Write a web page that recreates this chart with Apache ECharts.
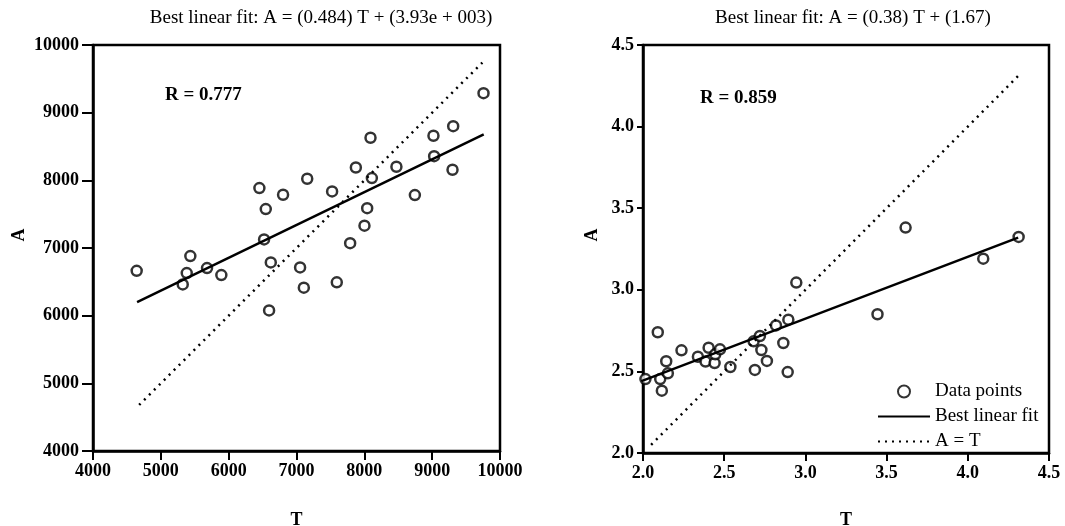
<!DOCTYPE html>
<html>
  <head>
    <title>Best linear fit</title>
    <meta charset='utf-8' />
    <script src="https://cdn.jsdelivr.net/npm/echarts@6/dist/echarts.min.js"></script>
  </head>
  <body style="margin: 0;">
    <div id="content" style="width: 1065px; height: 526px;"></div>

    <script type="text/javascript">
      // left panel: T and A values
      var leftT = [4644, 5323, 5382, 5435, 5681, 5892, 6453, 6522, 6547, 6621,
                   6596, 6802, 7053, 7108, 7158, 7525, 7594, 7791, 7875, 8002,
                   8042, 8091, 8111, 8473, 8745, 9019, 9029, 9310, 9300, 9757];
      var leftA = [6663, 6462, 6629, 6880, 6703, 6600, 7885, 7127, 7575, 6787,
                   6078, 7787, 6713, 6414, 8024, 7836, 6492, 7072, 8190, 7330,
                   7589, 8629, 8033, 8201, 7782, 8659, 8357, 8801, 8157, 9288];
      var leftFit = [[4650, 6200], [9760, 8680]];
      var leftIdent = [[4680, 4680], [9740, 9740]];
      var leftTicks = [4000, 5000, 6000, 7000, 8000, 9000, 10000];

      // right panel
      var rightT = [2.015, 2.091, 2.106, 2.116, 2.143, 2.153, 2.237, 2.338, 2.385, 2.404,
                    2.441, 2.445, 2.474, 2.538, 2.681, 2.689, 2.720, 2.729, 2.763, 2.819,
                    2.864, 2.891, 2.895, 2.944, 3.444, 3.617, 4.095, 4.313];
      var rightA = [2.453, 2.740, 2.453, 2.382, 2.562, 2.488, 2.629, 2.590, 2.560, 2.645,
                    2.551, 2.605, 2.635, 2.527, 2.684, 2.509, 2.717, 2.631, 2.564, 2.782,
                    2.674, 2.496, 2.817, 3.044, 2.850, 3.381, 3.191, 3.324];
      var rightFit = [[1.99, 2.44], [4.31, 3.32]];
      var rightIdent = [[2.05, 2.05], [4.33, 4.33]];
      var rightTicks = [2.0, 2.5, 3.0, 3.5, 4.0, 4.5];

      var titles = ['Best linear fit: A = (0.484) T + (3.93e + 003)',
                    'Best linear fit: A = (0.38) T + (1.67)'];
      var rLabels = ['R = 0.777', 'R = 0.859'];

      var FONT = 'Liberation Serif';

      function zip(xs, ys) {
        var out = [];
        for (var i = 0; i < xs.length; i++) out.push([xs[i], ys[i]]);
        return out;
      }

      function makeAxis(idx, ticks, dim, opts) {
        var step = ticks[1] - ticks[0];
        return {
          type: 'value',
          gridIndex: idx,
          min: ticks[0],
          max: ticks[ticks.length - 1],
          interval: step,
          name: dim === 'x' ? 'T' : '',
          nameLocation: 'middle',
          nameGap: opts.nameGap || 0,
          nameTextStyle: {fontFamily: FONT, fontSize: 18, fontWeight: 'bold', color: '#000'},
          axisLine: {show: true, onZero: false, lineStyle: {color: '#000', width: 2.5}},
          axisTick: {show: true, length: opts.tickLen, lineStyle: {color: '#000', width: 2}},
          axisLabel: {
            margin: opts.margin,
            fontFamily: FONT, fontSize: 18, fontWeight: 'bold', color: '#000',
            formatter: function (v) { return step < 1 ? v.toFixed(1) : String(v); }
          },
          splitLine: {show: false}
        };
      }

      // rotated "A" axis names
      function yName(x, y) {
        return {type: 'text', x: x, y: y, rotation: Math.PI / 2,
                style: {text: 'A', font: 'bold 18px "Liberation Serif"', fill: '#000',
                        align: 'center', verticalAlign: 'middle'}};
      }

      var myChart = echarts.init(document.getElementById('content'));
      var lineCommon = {type: 'line', symbol: 'none', silent: true, itemStyle: {color: '#000'}};
      var titleStyle = {fontFamily: FONT, fontSize: 19, fontWeight: 'normal', color: '#000'};
      var options = {
        animation: false,
        backgroundColor: '#fff',
        title: [
          {text: titles[0], left: 316, top: 4, textAlign: 'center', textStyle: titleStyle},
          {text: titles[1], left: 848, top: 4, textAlign: 'center', textStyle: titleStyle}
        ],
        graphic: [
          {type: 'text', left: 165, top: 86,
           style: {text: rLabels[0], font: 'bold 19px "Liberation Serif"', fill: '#000'}},
          {type: 'text', left: 700, top: 89,
           style: {text: rLabels[1], font: 'bold 19px "Liberation Serif"', fill: '#000'}},
          yName(19, 235),
          yName(592, 235)
        ],
        grid: [
          {left: 93, top: 45, width: 407, height: 406, show: true, outerBoundsMode: 'none',
           containLabel: false, borderColor: '#000', borderWidth: 2.5, backgroundColor: 'transparent'},
          {left: 643, top: 45, width: 406, height: 408, show: true, outerBoundsMode: 'none',
           containLabel: false, borderColor: '#000', borderWidth: 2.5, backgroundColor: 'transparent'}
        ],
        legend: {
          orient: 'vertical',
          left: 872, top: 377,
          itemWidth: 52, itemHeight: 12, itemGap: 6,
          data: [
            {name: 'Data points'},
            {name: 'Best linear fit', itemStyle: {opacity: 0}},
            {name: 'A = T', itemStyle: {opacity: 0}}
          ],
          textStyle: {fontFamily: FONT, fontSize: 19, color: '#000'}
        },
        xAxis: [
          makeAxis(0, leftTicks, 'x', {nameGap: 60, tickLen: 9, margin: 11}),
          makeAxis(1, rightTicks, 'x', {nameGap: 58, tickLen: 8, margin: 11})
        ],
        yAxis: [
          makeAxis(0, leftTicks, 'y', {tickLen: 11, margin: 14}),
          makeAxis(1, rightTicks, 'y', {tickLen: 6, margin: 9})
        ],
        series: [
          {name: 'Data points', type: 'scatter', xAxisIndex: 0, yAxisIndex: 0,
           data: zip(leftT, leftA), symbol: 'circle', symbolSize: 10,
           itemStyle: {color: '#fff', borderColor: '#000', borderWidth: 2.5}},
          Object.assign({name: 'Best linear fit', xAxisIndex: 0, yAxisIndex: 0, data: leftFit,
           lineStyle: {color: '#000', width: 2.5}}, lineCommon),
          Object.assign({name: 'A = T', xAxisIndex: 0, yAxisIndex: 0, data: leftIdent,
           lineStyle: {color: '#000', width: 2.5, type: [2, 5]}}, lineCommon),
          {name: 'Data points', type: 'scatter', xAxisIndex: 1, yAxisIndex: 1,
           data: zip(rightT, rightA), symbol: 'circle', symbolSize: 10,
           itemStyle: {color: '#fff', borderColor: '#000', borderWidth: 2.5}},
          Object.assign({name: 'Best linear fit', xAxisIndex: 1, yAxisIndex: 1, data: rightFit,
           lineStyle: {color: '#000', width: 2.5}}, lineCommon),
          Object.assign({name: 'A = T', xAxisIndex: 1, yAxisIndex: 1, data: rightIdent,
           lineStyle: {color: '#000', width: 2.5, type: [2, 5]}}, lineCommon)
        ]
      };
      myChart.setOption(options);
    </script>
  </body>
</html>
